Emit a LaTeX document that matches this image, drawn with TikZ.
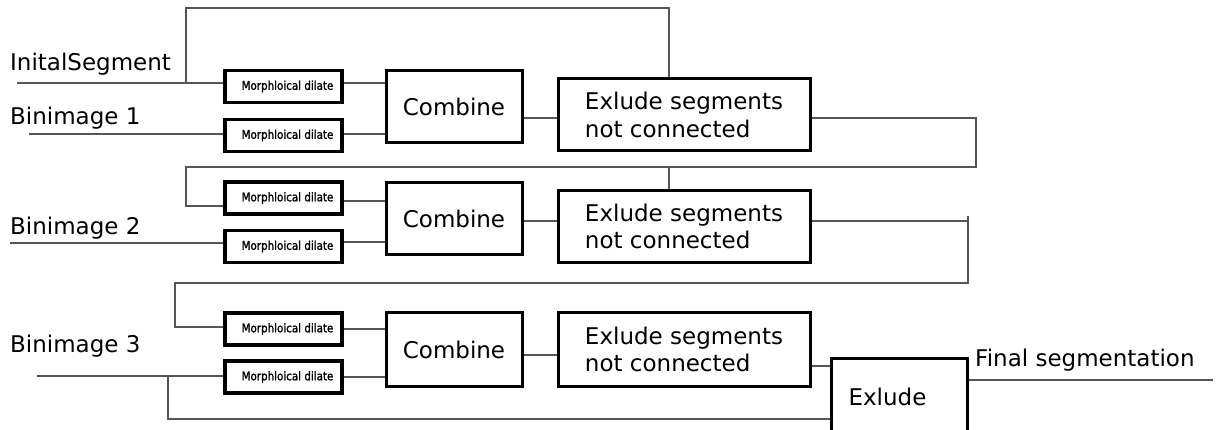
\documentclass[tikz,border=0pt]{standalone}
\usepackage{fontspec}
\setmainfont{DejaVu Sans}
\newfontfamily\morphfont[FakeStretch=0.86,FakeBold=1.2]{DejaVu Sans}
\definecolor{linegray}{RGB}{85,85,85}
\tikzset{
  conn/.style={draw=linegray, line width=1.4pt},
  morphbox/.style={draw=black, line width=3.2pt, minimum width=117pt, minimum height=32pt, inner sep=0pt,
    font=\morphfont\fontsize{12}{14}\selectfont},
  combbox/.style={draw=black, line width=3pt, minimum width=136pt, minimum height=72pt, inner sep=0pt,
    font=\fontsize{23}{27.6}\selectfont},
  exbox/.style={draw=black, line width=3pt, minimum width=252pt, minimum height=72pt, inner sep=0pt,
    align=left, font=\fontsize{23}{27.6}\selectfont},
  lbl/.style={anchor=base west, inner sep=0pt, font=\fontsize{23}{27.6}\selectfont},
}
\begin{document}
\begin{tikzpicture}[x=1pt,y=-1pt]
\clip (0,0) rectangle (1219,430);
\fill[white] (0,0) rectangle (1219,430);

% labels
\node[lbl] (lab0) at (10,71) {InitalSegment};
\node[lbl] (lab1) at (10,125) {Binimage 1};
\node[lbl] (lab2) at (10,235) {Binimage 2};
\node[lbl] (lab3) at (10,353) {Binimage 3};
\node[lbl] (labF) at (975,367) {Final segmentation};

% morph boxes
\node[morphbox] (m1) at (283.5,86.5) {\hspace*{8pt}Morphloical dilate};
\node[morphbox] (m2) at (283.5,135.5) {\hspace*{8pt}Morphloical dilate};
\node[morphbox] (m3) at (283.5,198) {\hspace*{8pt}Morphloical dilate};
\node[morphbox] (m4) at (283.5,246.5) {\hspace*{8pt}Morphloical dilate};
\node[morphbox] (m5) at (283.5,329) {\hspace*{8pt}Morphloical dilate};
\node[morphbox] (m6) at (283.5,377) {\hspace*{8pt}Morphloical dilate};

% combine boxes
\node[combbox] (c1) at (454,107) {Combine};
\node[combbox] (c2) at (454,219) {Combine};
\node[combbox, minimum height=74pt] (c3) at (454,349.5) {Combine};

% exclude boxes
\node[exbox] (e1) at (684,115) {Exlude segments\\not connected};
\node[exbox] (e2) at (684,226.5) {Exlude segments\\not connected};
\node[exbox, minimum height=74pt] (e3) at (684,349.5) {Exlude segments\\not connected};

% final exclude
\node[combbox, minimum width=136pt, minimum height=84pt] (fin) at (899,401) {\raisebox{8pt}{Exlude}\hspace*{23pt}};

% coordinates
\coordinate (s0) at (17,83);
\coordinate (s1) at (29,134);
\coordinate (s2) at (10,243);
\coordinate (s3) at (37,376);
\coordinate (j0) at (186,83);
\coordinate (top) at (669,8);
\coordinate (r1) at (976,167);
\coordinate (l1) at (186,167);
\coordinate (r2a) at (968,221);
\coordinate (r2t) at (968,216);
\coordinate (r2) at (968,283);
\coordinate (l2) at (175,283);
\coordinate (j3) at (168,376);
\coordinate (b3) at (168,419);
\coordinate (out) at (1213,380);

% row 1
\draw[conn] (s0) -- (s0 -| m1.west);
\draw[conn] (j0) |- (top) -- (top |- e1.north);
\draw[conn] (s1) -- (s1 -| m2.west);
\draw[conn] ([yshift=3.5pt]m1.east) -- ([yshift=3.5pt]m1.east -| c1.west);
\draw[conn] ([yshift=1.5pt]m2.east) -- ([yshift=1.5pt]m2.east -| c1.west);
\draw[conn] ([yshift=-11pt]c1.east) -- ([yshift=-11pt]c1.east -| e1.west);
\draw[conn] ([yshift=-3pt]e1.east) -| (r1) -- (l1) |- ([yshift=-8pt]m3.west);
\draw[conn] (top |- r1) -- (top |- e2.north);

% row 2
\draw[conn] ([yshift=-3pt]m3.east) -- ([yshift=-3pt]m3.east -| c2.west);
\draw[conn] (s2) -- (s2 -| m4.west);
\draw[conn] ([yshift=4.5pt]m4.east) -- ([yshift=4.5pt]m4.east -| c2.west);
\draw[conn] ([yshift=-2pt]c2.east) -- ([yshift=-2pt]c2.east -| e2.west);
\draw[conn] ([yshift=5.5pt]e2.east) -- (r2a);
\draw[conn] (r2t) -- (r2) -- (l2) |- ([yshift=2pt]m5.west);

% row 3
\draw[conn] (m5.east) -- (m5.east -| c3.west);
\draw[conn] (s3) -- (s3 -| m6.west);
\draw[conn] (m6.east) -- (m6.east -| c3.west);
\draw[conn] ([yshift=-5.5pt]c3.east) -- ([yshift=-5.5pt]c3.east -| e3.west);
\draw[conn] ([yshift=-16.5pt]e3.east) -- ([yshift=-16.5pt]e3.east -| fin.west);
\draw[conn] (j3) -- (b3) -- (b3 -| fin.west);
\draw[conn] (out -| fin.east) -- (out);
\end{tikzpicture}
\end{document}
